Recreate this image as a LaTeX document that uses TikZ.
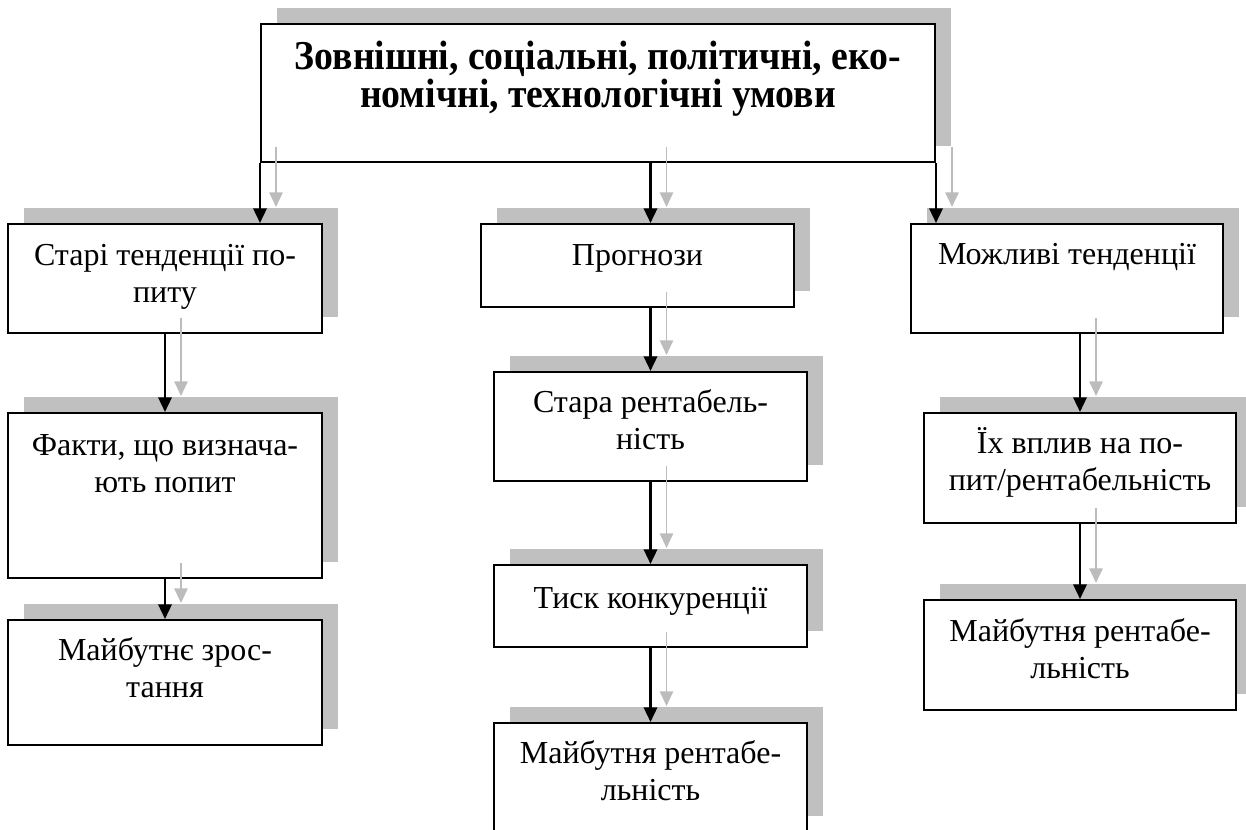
\documentclass[tikz,border=0pt]{standalone}
\usepackage{fontspec}
\setmainfont{Liberation Serif}
\newfontfamily\headfont[FakeStretch=0.92]{Liberation Serif}
\usetikzlibrary{arrows.meta,shadows}

\definecolor{shadowgray}{RGB}{192,192,192}
\definecolor{arrowgray}{RGB}{188,188,188}

\tikzset{
  shbox/.style={draw, line width=1.5pt, fill=white, inner sep=0pt,
    drop shadow={shadow xshift=12pt, shadow yshift=12pt, fill=shadowgray, opacity=1}},
  lbl/.style={anchor=base, inner sep=0pt, align=center, font=\fontsize{24}{27.75}\selectfont},
  toplbl/.style={anchor=base, inner sep=0pt, align=center, font=\headfont\bfseries\fontsize{30.75}{28.5}\selectfont},
  arrblk/.style={line width=1.8pt, -{Triangle[length=11pt,width=10pt]}},
  arrgry/.style={draw=arrowgray, line width=1.3pt, -{Triangle[length=11pt,width=10pt]},
    transform canvas={xshift=12pt,yshift=12pt}}
}

\begin{document}
\begin{tikzpicture}[x=0.75pt,y=0.75pt,yscale=-1,xscale=1]
        \useasboundingbox (0,0) rectangle (1246,829);

        % Boxes
        \node[shbox, minimum width=505.5pt, minimum height=103.5pt] (topbox) at (598,93) {};
        \node[shbox, minimum width=235.5pt, minimum height=81.75pt] (old) at (165,278.5) {};
        \node[shbox, minimum width=235.5pt, minimum height=123.75pt] (fact) at (165,495.5) {};
        \node[shbox, minimum width=235.5pt, minimum height=93.75pt] (grow) at (165,682.5) {};
        \node[shbox, minimum width=234.75pt, minimum height=62.25pt] (prog) at (637.5,265.5) {};
        \node[shbox, minimum width=234.75pt, minimum height=81.75pt] (rent) at (650.5,426.5) {};
        \node[shbox, minimum width=234.75pt, minimum height=61.5pt] (press) at (650.5,606) {};
        \node[shbox, minimum width=234.75pt, minimum height=81.75pt] (fut) at (650.5,777.5) {};
        \node[shbox, minimum width=234pt, minimum height=81.75pt] (poss) at (1067,278.5) {};
        \node[shbox, minimum width=234pt, minimum height=82.5pt] (infl) at (1080,468) {};
        \node[shbox, minimum width=234pt, minimum height=82.5pt] (futr) at (1080,655) {};

        % Text Nodes (base = last line)
        \node[toplbl] (topt) at (598,107) {Зовнішні, соціальні, політичні, еко-\\номічні, технологічні умови};
        \node[lbl] (oldt) at (165,302) {Старі тенденції по-\\питу};
        \node[lbl] (factt) at (165,492) {Факти, що визнача-\\ють попит};
        \node[lbl] (growt) at (165,697) {Майбутнє зрос-\\тання};
        \node[lbl] (progt) at (637.5,265) {Прогнози};
        \node[lbl] (rentt) at (650.5,449) {Стара рентабель-\\ність};
        \node[lbl] (presst) at (650.5,608) {Тиск конкуренції};
        \node[lbl] (futt) at (650.5,800) {Майбутня рентабе-\\льність};
        \node[lbl] (posst) at (1067,264) {Можливі тенденції};
        \node[lbl] (inflt) at (1080,490) {Їх вплив на по-\\пит/рентабельність};
        \node[lbl] (futrt) at (1080,678) {Майбутня рентабе-\\льність};

        % Arrow shadows
        \draw[arrgry] (topbox.south west) -- (topbox.south west |- old.north);
        \draw[arrgry] (topbox.south -| rent.north) -- (prog.north -| rent.north);
        \draw[arrgry] (topbox.south east) -- (topbox.south east |- poss.north);
        \draw[arrgry] (old.south) -- (fact.north);
        \draw[arrgry] (fact.south) -- (grow.north);
        \draw[arrgry] (prog.south -| rent.north) -- (rent.north);
        \draw[arrgry] (rent.south) -- (press.north);
        \draw[arrgry] (press.south) -- (fut.north);
        \draw[arrgry] (poss.south -| infl.north) -- (infl.north);
        \draw[arrgry] (infl.south) -- (futr.north);

        % Arrows
        \draw[arrblk] (topbox.south west) -- (topbox.south west |- old.north);
        \draw[arrblk] (topbox.south -| rent.north) -- (prog.north -| rent.north);
        \draw[arrblk] (topbox.south east) -- (topbox.south east |- poss.north);
        \draw[arrblk] (old.south) -- (fact.north);
        \draw[arrblk] (fact.south) -- (grow.north);
        \draw[arrblk] (prog.south -| rent.north) -- (rent.north);
        \draw[arrblk] (rent.south) -- (press.north);
        \draw[arrblk] (press.south) -- (fut.north);
        \draw[arrblk] (poss.south -| infl.north) -- (infl.north);
        \draw[arrblk] (infl.south) -- (futr.north);

\end{tikzpicture}
\end{document}
